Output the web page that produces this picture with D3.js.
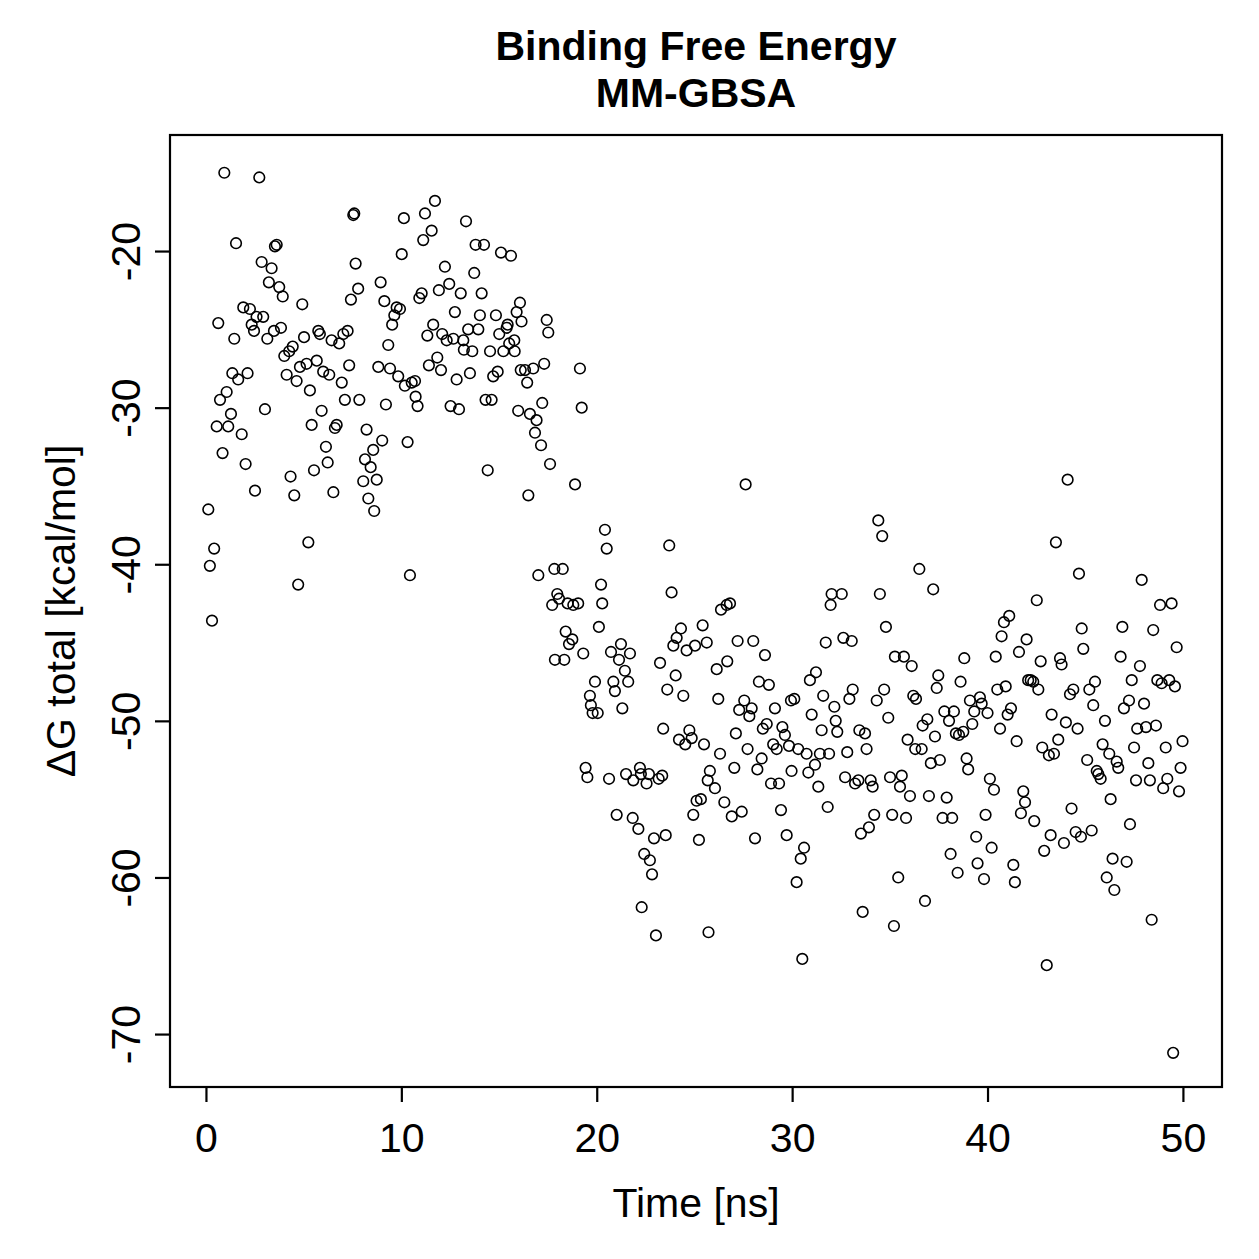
<!DOCTYPE html>
<html>
<head>
<meta charset="utf-8">
<script src="https://cdn.jsdelivr.net/npm/d3@7"></script>
<style>
  body { margin: 0; background: #fff; }
  #container { width: 1259px; height: 1259px; }
  text { font-family: "Liberation Sans", Arial, Helvetica, sans-serif; fill: #000; }
</style>
</head>
<body>
<div id="container"></div>
<script>
////////// DATA

var chartTitle = ["Binding Free Energy", "MM-GBSA"];
var xLabel = "Time [ns]";
var yLabel = "\u0394G total [kcal/mol]";
var xTicks = [0, 10, 20, 30, 40, 50];
var yTicks = [-70, -60, -50, -40, -30, -20];

// time [ns]
var times = [
 0.12,0.20,0.31,0.42,0.55,0.63,0.72,0.85,0.94,1.06,1.14,1.28,1.35,1.45,1.54,1.65,1.83,1.91,2.03,2.13,
 2.25,2.34,2.46,2.51,2.59,2.73,2.85,2.93,3.02,3.14,3.22,3.36,3.48,3.53,3.62,3.75,3.84,3.93,4.01,4.13,
 4.26,4.33,4.44,4.52,4.64,4.72,4.81,4.93,5.02,5.15,5.24,5.32,5.41,5.53,5.67,5.75,5.83,5.92,6.00,6.14,
 6.23,6.31,6.43,6.52,6.60,6.69,6.82,6.95,7.03,7.11,7.25,7.33,7.42,7.54,7.59,7.66,7.79,7.85,8.05,8.14,
 8.22,8.31,8.43,8.56,8.61,8.74,8.82,8.94,9.02,9.13,9.21,9.33,9.42,9.53,9.64,9.76,9.84,9.93,10.02,10.13,
 10.18,10.32,10.44,10.53,10.70,10.73,10.83,10.92,11.04,11.12,11.21,11.33,11.41,11.55,11.63,11.72,11.84,11.92,12.03,12.09,
 12.23,12.32,12.45,12.52,12.66,12.74,12.83,12.95,13.04,13.17,13.20,13.31,13.42,13.51,13.63,13.73,13.80,13.94,14.02,14.11,
 14.23,14.31,14.42,14.54,14.62,14.70,14.84,14.93,15.01,15.10,15.22,15.39,15.44,15.52,15.61,15.78,15.80,15.90,15.98,16.07,
 16.11,16.15,16.33,16.44,16.50,16.58,16.75,16.84,16.92,17.01,17.15,17.21,17.31,17.44,17.52,17.61,17.72,17.83,17.86,17.98,
 18.07,18.26,18.34,18.41,18.51,18.58,18.75,18.80,18.89,19.05,19.14,19.23,19.31,19.43,19.52,19.65,19.70,19.79,19.91,20.05,
 20.11,20.22,20.28,20.42,20.51,20.63,20.73,20.85,20.93,21.02,21.14,21.24,21.31,21.44,21.50,21.61,21.70,21.84,21.87,22.13,
 22.21,22.26,22.30,22.43,22.55,22.67,22.72,22.83,22.93,23.03,23.17,23.24,23.35,23.40,23.53,23.61,23.71,23.83,23.92,24.04,
 24.09,24.21,24.31,24.43,24.53,24.60,24.74,24.86,24.94,25.03,25.11,25.23,25.33,25.42,25.49,25.63,25.68,25.72,25.79,26.05,
 26.14,26.22,26.31,26.36,26.53,26.65,26.68,26.82,26.91,27.04,27.12,27.21,27.29,27.42,27.55,27.62,27.72,27.81,27.93,28.01,
 28.10,28.22,28.30,28.44,28.50,28.61,28.70,28.81,28.92,29.03,29.12,29.21,29.33,29.43,29.50,29.63,29.72,29.84,29.94,29.97,
 30.11,30.23,30.31,30.44,30.52,30.61,30.74,30.83,30.91,31.00,31.17,31.22,31.34,31.42,31.51,31.59,31.72,31.82,31.89,31.97,
 32.02,32.16,32.23,32.31,32.54,32.62,32.71,32.82,32.93,33.05,33.10,33.22,33.39,33.44,33.52,33.61,33.73,33.81,33.93,34.02,
 34.12,34.20,34.33,34.41,34.49,34.61,34.71,34.80,34.92,35.01,35.12,35.21,35.26,35.43,35.52,35.61,35.72,35.83,35.91,36.03,
 36.12,36.20,36.34,36.30,36.51,36.63,36.68,36.80,36.92,37.00,37.10,37.22,37.31,37.40,37.48,37.56,37.70,37.79,37.91,38.03,
 38.11,38.19,38.28,38.38,38.47,38.54,38.62,38.76,38.81,38.93,39.01,39.10,39.22,39.32,39.42,39.49,39.61,39.70,39.82,39.90,
 40.00,40.12,40.21,40.33,40.42,40.50,40.64,40.72,40.84,40.93,41.03,41.11,41.20,41.32,41.40,41.49,41.61,41.71,41.83,41.92,
 42.00,42.08,42.21,42.34,42.39,42.52,42.60,42.72,42.80,42.90,43.03,43.14,43.23,43.28,43.40,43.50,43.62,43.71,43.79,43.91,
 44.01,44.10,44.22,44.30,44.39,44.51,44.61,44.68,44.78,44.82,44.90,45.10,45.21,45.33,45.41,45.50,45.59,45.67,45.79,45.89,
 46.01,46.10,46.23,46.30,46.40,46.49,46.61,46.69,46.81,46.90,46.98,47.12,47.24,47.29,47.38,47.50,47.60,47.66,47.80,47.89,
 48.01,48.11,48.23,48.31,48.40,48.48,48.62,48.69,48.83,48.91,48.99,49.12,49.20,49.30,49.42,49.50,49.59,49.68,49.80,49.88,
 49.98
];

// delta G total [kcal/mol]
var dG = [
 -36.5,-40.1,-43.6,-39.0,-31.2,-24.6,-29.5,-32.9,-15.0,-29.0,-31.2,-30.4,-27.8,-25.6,-19.5,-28.2,-31.7,-23.6,-33.6,-27.8,
 -23.7,-24.7,-25.1,-35.3,-24.2,-15.3,-20.7,-24.2,-30.1,-25.6,-22.0,-21.1,-25.1,-19.7,-19.6,-22.3,-24.9,-22.9,-26.7,-27.9,
 -26.4,-34.4,-26.1,-35.6,-28.3,-41.3,-27.4,-23.4,-25.5,-27.2,-38.6,-28.9,-31.1,-34.0,-27.0,-25.1,-25.3,-30.2,-27.7,-32.5,
 -33.5,-27.9,-25.7,-35.4,-31.3,-31.1,-25.9,-28.4,-25.3,-29.5,-25.1,-27.3,-23.1,-17.7,-17.6,-20.8,-22.4,-29.5,-34.7,-33.3,
 -31.4,-35.8,-33.8,-32.7,-36.6,-34.6,-27.4,-22.0,-32.1,-23.2,-29.8,-26.0,-27.5,-24.7,-24.1,-23.6,-28.0,-23.7,-20.2,-17.9,
 -28.6,-32.2,-40.7,-28.4,-28.3,-29.3,-29.9,-23.0,-22.7,-19.3,-17.6,-25.4,-27.3,-18.7,-24.7,-16.8,-26.8,-22.5,-27.6,-25.3,
 -21.0,-25.7,-22.1,-29.9,-25.6,-23.9,-28.2,-30.1,-22.7,-25.7,-26.3,-18.1,-25.0,-27.8,-26.4,-21.4,-19.6,-25.0,-24.1,-22.7,
 -19.6,-29.5,-34.0,-26.4,-29.5,-28.0,-24.1,-27.7,-25.3,-20.1,-26.4,-24.9,-24.7,-25.9,-20.3,-25.7,-26.4,-23.9,-30.2,-23.3,
 -27.6,-24.5,-27.6,-28.4,-35.6,-30.4,-27.5,-31.6,-30.8,-40.7,-32.4,-29.7,-27.2,-24.4,-25.2,-33.6,-42.6,-40.3,-46.1,-41.9,
 -42.2,-40.3,-46.1,-44.3,-42.5,-45.1,-44.8,-42.6,-34.9,-42.5,-27.5,-30.0,-45.7,-53.0,-53.6,-48.4,-49.0,-49.5,-47.5,-49.5,
 -44.0,-41.3,-42.5,-37.8,-39.0,-53.7,-45.6,-47.5,-48.1,-56.0,-46.1,-45.1,-49.2,-46.8,-53.4,-47.5,-45.7,-56.2,-53.8,-56.9,
 -53.0,-53.4,-61.9,-58.5,-54.0,-53.4,-58.9,-59.8,-57.5,-63.7,-53.7,-46.3,-53.5,-50.5,-57.3,-48.0,-38.8,-41.8,-45.2,-47.1,
 -44.7,-51.2,-44.1,-48.4,-51.5,-45.5,-50.6,-51.1,-56.0,-45.2,-55.1,-57.6,-55.0,-43.9,-51.5,-45.0,-53.8,-63.5,-53.2,-54.3,
 -46.7,-48.6,-52.1,-42.9,-55.2,-42.6,-46.2,-42.5,-56.1,-53.0,-50.8,-44.9,-49.3,-55.8,-48.7,-34.9,-51.8,-49.7,-49.2,-44.9,
 -57.5,-53.1,-47.5,-52.4,-50.5,-45.8,-50.2,-47.7,-54.0,-51.5,-49.2,-51.8,-54.0,-55.7,-50.4,-50.9,-57.3,-51.6,-48.7,-53.2,
 -48.6,-60.3,-51.8,-58.8,-65.2,-58.1,-52.1,-53.3,-47.4,-49.6,-52.8,-46.9,-54.2,-52.1,-50.6,-48.4,-45.0,-55.5,-52.1,-42.6,
 -41.9,-49.1,-50.0,-50.7,-41.9,-44.7,-53.6,-52.0,-48.6,-44.9,-48.0,-54.0,-53.8,-50.6,-57.2,-62.2,-50.8,-51.8,-56.8,-53.8,
 -54.2,-56.0,-48.7,-37.2,-41.9,-38.2,-48.0,-44.0,-49.8,-53.6,-56.0,-63.1,-45.9,-60.0,-54.2,-53.5,-45.9,-56.2,-51.2,-54.8,
 -46.5,-48.4,-48.6,-51.8,-40.3,-51.8,-50.3,-61.5,-49.9,-54.8,-52.7,-41.6,-51.0,-47.9,-47.1,-52.5,-56.2,-49.4,-54.9,-50.0,
 -58.5,-56.2,-49.4,-50.8,-59.7,-50.9,-47.5,-50.7,-46.0,-52.4,-53.1,-48.7,-50.2,-49.4,-57.4,-59.1,-48.5,-48.9,-60.1,-56.0,
 -49.5,-53.7,-58.1,-54.4,-45.9,-48.0,-50.5,-44.6,-43.7,-47.8,-49.6,-43.3,-49.2,-59.2,-60.3,-51.3,-45.6,-55.9,-54.5,-55.2,
 -44.8,-47.4,-47.4,-47.5,-56.4,-42.3,-48.0,-46.2,-51.7,-58.3,-65.6,-52.2,-57.3,-49.6,-52.1,-38.6,-51.2,-46.0,-46.4,-57.8,
 -50.1,-34.6,-48.3,-55.6,-48.0,-57.1,-50.5,-40.6,-57.4,-44.1,-45.4,-52.5,-48.0,-57.0,-49.0,-47.5,-53.2,-53.4,-53.7,-51.5,
 -50.0,-60.0,-52.1,-55.0,-58.8,-60.8,-52.6,-53.0,-45.9,-44.0,-49.2,-59.0,-48.7,-56.6,-47.4,-51.7,-53.8,-50.5,-46.5,-41.0,
 -48.9,-50.4,-52.7,-53.8,-62.7,-44.2,-50.3,-47.4,-42.6,-47.6,-54.3,-51.7,-53.7,-47.4,-42.5,-71.2,-47.8,-45.3,-54.5,-53.0,
 -51.3
];

////////// LAYOUT

var gWidth = 1259;
var gHeight = 1259;
var plotLeft = 170, plotRight = 1222, plotTop = 135, plotBottom = 1087;
var fontSize = 41;

function createNewSvg()
{
	d3.select("#container").html("");
	return d3.select("#container").append("svg")
		.attr("width", gWidth)
		.attr("height", gHeight);
}

// R prints plain hyphens for negative numbers
function plainLabel(d) { return String(d); }

function draw()
{
	var svg = createNewSvg();
	var points = times.map(function(t, i) { return { t: t, g: dG[i] }; });

	// R style 4% padding around the data range
	var x = d3.scaleLinear().domain([-1.84, 52.0]).range([plotLeft, plotRight]);
	var y = d3.scaleLinear().domain([-73.38, -12.59]).range([plotBottom, plotTop]);

	// points (open circles)
	svg.append("g").selectAll(".pt").data(points).enter().append("circle")
		.attr("class", "pt")
		.attr("cx", function(d) { return x(d.t); })
		.attr("cy", function(d) { return y(d.g); })
		.attr("r", 5.3)
		.style("fill", "none")
		.style("stroke", "#000")
		.style("stroke-width", 1.6);

	// X axis
	var xAxis = svg.append("g")
		.attr("transform", "translate(0," + plotBottom + ")")
		.call(d3.axisBottom(x).tickValues(xTicks).tickSize(15).tickPadding(21).tickFormat(plainLabel));
	xAxis.select(".domain").remove();
	xAxis.selectAll("line").style("stroke", "#000").style("stroke-width", 2.2);
	xAxis.selectAll("text").style("font-size", fontSize + "px").attr("font-family", null);

	// Y axis, labels rotated like R's default las=0
	var yAxis = svg.append("g")
		.attr("transform", "translate(" + plotLeft + ",0)")
		.call(d3.axisLeft(y).tickValues(yTicks).tickSize(15).tickFormat(plainLabel));
	yAxis.select(".domain").remove();
	yAxis.selectAll("line").style("stroke", "#000").style("stroke-width", 2.2);
	yAxis.selectAll("text")
		.attr("x", null).attr("dy", null)
		.attr("transform", "translate(-30,0) rotate(-90)")
		.style("text-anchor", "middle")
		.style("font-size", fontSize + "px");

	// frame
	svg.append("rect")
		.attr("x", plotLeft).attr("y", plotTop)
		.attr("width", plotRight - plotLeft)
		.attr("height", plotBottom - plotTop)
		.style("fill", "none")
		.style("stroke", "#000")
		.style("stroke-width", 2.2);

	// title
	var cx = (plotLeft + plotRight) / 2;
	svg.selectAll(".title").data(chartTitle).enter().append("text")
		.attr("class", "title")
		.attr("x", cx)
		.attr("y", function(d, i) { return 60 + i * 47; })
		.style("text-anchor", "middle")
		.style("font-weight", "bold")
		.style("font-size", fontSize + "px")
		.text(function(d) { return d; });

	// axis titles
	svg.append("text")
		.attr("x", cx)
		.attr("y", 1217)
		.style("text-anchor", "middle")
		.style("font-size", fontSize + "px")
		.text(xLabel);

	svg.append("text")
		.attr("transform", "translate(75," + ((plotTop + plotBottom) / 2) + ") rotate(-90)")
		.style("text-anchor", "middle")
		.style("font-size", fontSize + "px")
		.text(yLabel);
}

draw();
</script>
</body>
</html>
